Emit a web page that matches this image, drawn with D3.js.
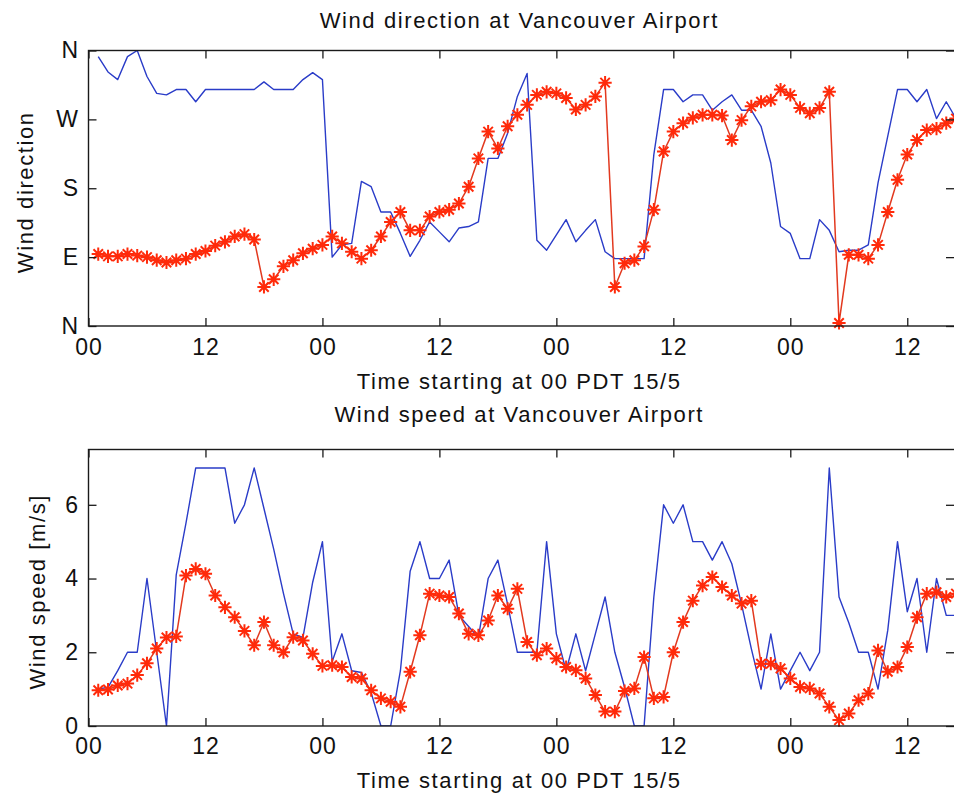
<!DOCTYPE html>
<html>
<head>
<meta charset="utf-8">
<script src="https://cdn.jsdelivr.net/npm/d3@7"></script>
<style>
  html, body { margin: 0; padding: 0; background: #fff; }
  svg { display: block; }
  text { font-family: "Liberation Sans", Arial, sans-serif; fill: #111; }
</style>
</head>
<body>
<svg id="chart" width="954" height="798"></svg>
<script>
// ---- data (hours 1..89 from 00 PDT 15/5) ----
const hours = d3.range(1, 90);

const dirObserved = [352,332,322,352,360,326,304,302,309,309,293,309,309,309,309,309,309,319,309,309,
  309,322,331,322,90,106,108,189,182,149,149,121,91,112,136,123,110,128,130,136,
  219,219,252,300,330,112,99,119,139,110,125,139,97,88,88,88,88,224,309,309,
  293,302,302,282,293,302,282,282,261,213,130,121,88,88,139,125,97,99,99,106,
  187,248,309,309,293,309,271,293,271];

const dirForecast = [94,91,91,94,92,90,86,83,86,88,94,98,105,110,117,120,113,51,61,78,
  86,95,101,106,117,108,97,88,99,117,136,149,125,125,143,149,152,160,182,219,
  254,232,261,276,289,302,306,304,298,283,289,300,318,51,82,86,104,152,228,254,
  265,272,276,276,275,243,269,287,293,295,309,302,285,278,285,306,4,93,93,88,
  106,149,191,224,243,256,258,265,271];

const speedObserved = [1.0,1.05,1.5,2.0,2.0,4.0,2.0,0,4.1,5.5,7.0,7.0,7.0,7.0,5.5,6.0,7.0,5.9,4.8,3.6,
  2.5,2.4,3.9,5.0,1.75,2.5,1.5,1.45,0.9,0,0,1.5,4.2,5.0,4.0,4.0,4.5,3.0,2.7,2.4,
  4.0,4.5,3.3,2.0,2.0,2.0,5.0,2.5,1.5,2.5,1.5,2.5,3.5,2.0,1.05,0,0,3.5,6.0,5.5,
  6.0,5.0,5.0,4.5,5.0,4.4,3.3,2.1,1.0,2.5,1.0,1.5,2.0,1.5,2.0,7.0,3.5,2.8,2.0,2.0,
  1.0,2.6,5.0,3.1,4.0,2.0,4.0,3.0,3.0];

const speedForecast = [0.97,0.99,1.1,1.15,1.38,1.7,2.1,2.4,2.43,4.08,4.26,4.13,3.54,3.22,2.95,2.58,2.19,2.82,2.19,2.0,
  2.41,2.32,1.96,1.63,1.65,1.6,1.33,1.29,0.97,0.75,0.66,0.52,1.47,2.46,3.59,3.54,3.5,3.05,2.5,2.46,
  2.86,3.54,3.18,3.72,2.28,1.92,2.1,1.83,1.6,1.51,1.29,0.84,0.39,0.39,0.95,1.02,1.87,0.75,0.79,2.0,
  2.82,3.4,3.81,4.04,3.77,3.54,3.32,3.4,1.69,1.69,1.56,1.29,1.06,1.02,0.88,0.52,0.16,0.34,0.7,0.88,
  2.05,1.47,1.6,2.14,2.95,3.59,3.63,3.5,3.59];

const xTickValues = [0, 12, 24, 36, 48, 60, 72, 84];
const xTickLabels = ["00", "12", "00", "12", "00", "12", "00", "12"];
const dirTickValues = [0, 90, 180, 270, 360];
const dirTickLabels = ["N", "E", "S", "W", "N"];
const speedTickValues = [0, 2, 4, 6];

const titles = ["Wind direction at Vancouver Airport", "Wind speed at Vancouver Airport"];
const xLabel = "Time starting at 00 PDT 15/5";
const yLabels = ["Wind direction", "Wind speed [m/s]"];

// ---- layout ----
const svg = d3.select("#chart");
const xLeft = 88.5, xRight = 956;
const x = d3.scaleLinear().domain([0, 89]).range([xLeft, xRight]);
const panels = [
  { top: 50.5, bottom: 326, y: d3.scaleLinear().domain([0, 360]).range([326, 50.5]),
    ticks: dirTickValues, fmt: (d, i) => dirTickLabels[i],
    obs: dirObserved, fc: dirForecast, title: titles[0], ylab: yLabels[0],
    titleY: 28, xlabY: 389, ylabX: 33, xPad: 13 },
  { top: 449.5, bottom: 726, y: d3.scaleLinear().domain([0, 7.5]).range([726, 449.5]),
    ticks: speedTickValues, fmt: d => d3.format("d")(d),
    obs: speedObserved, fc: speedForecast, title: titles[1], ylab: yLabels[1],
    titleY: 422, xlabY: 788, ylabX: 45, xPad: 12 }
];

const TICK = 8;
const axisColor = "#1a1a1a";
const blue = "#2a3cc8";
const redLine = "#e2391f";
const redStar = "#ff2a0a";

panels.forEach(p => {
  const g = svg.append("g");
  const cx = (xLeft + 954) / 2 - 2;

  // title
  g.append("text").attr("x", cx).attr("y", p.titleY).attr("text-anchor", "middle")
    .style("font-size", "22px").style("letter-spacing", "1.6px").text(p.title);
  // x label
  g.append("text").attr("x", cx).attr("y", p.xlabY).attr("text-anchor", "middle")
    .style("font-size", "22px").style("letter-spacing", "1.6px").text(xLabel);
  // y label
  const yc = (p.top + p.bottom) / 2 + 4;
  g.append("text").attr("transform", `translate(${p.ylabX},${yc}) rotate(-90)`)
    .attr("text-anchor", "middle")
    .style("font-size", "22px").style("letter-spacing", "1.6px").text(p.ylab);

  // clip
  const clipId = "clip" + p.top;
  svg.append("clipPath").attr("id", clipId).append("rect")
    .attr("x", xLeft).attr("y", p.top).attr("width", xRight - xLeft).attr("height", p.bottom - p.top);

  // series
  const line = d3.line().x((d, i) => x(hours[i])).y(d => p.y(d));
  const plot = g.append("g").attr("clip-path", `url(#${clipId})`);
  plot.append("path").datum(p.obs).attr("d", line)
    .attr("fill", "none").attr("stroke", blue).attr("stroke-width", 1.4).attr("stroke-linejoin", "round");
  plot.append("path").datum(p.fc).attr("d", line)
    .attr("fill", "none").attr("stroke", redLine).attr("stroke-width", 1.5).attr("stroke-linejoin", "round");
  const r = 6.6, rd = r * 0.72;
  const star = `M${-r},0L${r},0M0,${-r}L0,${r}M${-rd},${-rd}L${rd},${rd}M${-rd},${rd}L${rd},${-rd}`;
  g.append("g").selectAll("path").data(p.fc).join("path")
    .attr("transform", (d, i) => `translate(${x(hours[i])},${p.y(d)})`)
    .attr("d", star).attr("fill", "none").attr("stroke", redStar).attr("stroke-width", 2);

  // axes with inward ticks
  const xb = d3.axisBottom(x).tickValues(xTickValues).tickFormat((d, i) => xTickLabels[i])
    .tickSizeInner(-TICK).tickSizeOuter(0).tickPadding(p.xPad);
  const ax = g.append("g").attr("transform", `translate(0,${p.bottom})`).call(xb);
  const xt = d3.axisTop(x).tickValues(xTickValues).tickFormat("").tickSizeInner(-TICK).tickSizeOuter(0);
  const axT = g.append("g").attr("transform", `translate(0,${p.top})`).call(xt);
  const yl = d3.axisLeft(p.y).tickValues(p.ticks).tickFormat(p.fmt)
    .tickSizeInner(-TICK).tickSizeOuter(0).tickPadding(10.5);
  const ay = g.append("g").attr("transform", `translate(${xLeft},0)`).call(yl);
  const yr = d3.axisRight(p.y).tickValues(p.ticks).tickFormat("").tickSizeInner(-TICK).tickSizeOuter(0);
  const ayR = g.append("g").attr("transform", `translate(${xRight - 2},0)`).call(yr);

  [ax, axT, ay, ayR].forEach(a => {
    a.select(".domain").remove();
    a.selectAll("line").attr("stroke", axisColor).attr("stroke-width", 1.3);
    a.selectAll("text").style("font-size", "23px").style("font-family", "'Liberation Sans', Arial, sans-serif")
      .attr("fill", "#111");
  });
  ax.selectAll("text").style("letter-spacing", "1px");

  // box
  g.append("rect").attr("x", xLeft).attr("y", p.top).attr("width", xRight - xLeft).attr("height", p.bottom - p.top)
    .attr("fill", "none").attr("stroke", axisColor).attr("stroke-width", 1.4);
});
</script>
</body>
</html>
